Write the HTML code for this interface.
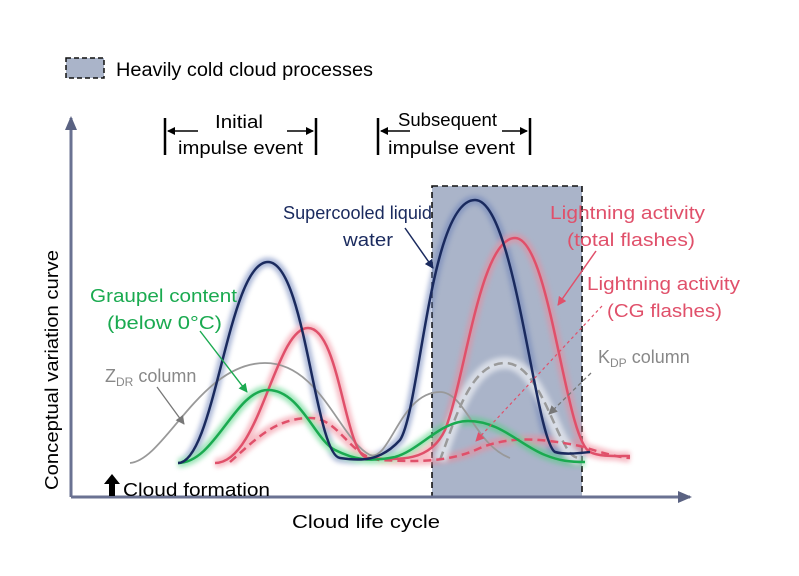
<!DOCTYPE html>
<html><head><meta charset="utf-8"><style>
html,body{margin:0;padding:0;background:#fff}
svg{display:block;font-family:"Liberation Sans","DejaVu Sans",sans-serif}
</style></head><body>
<svg width="799" height="576" viewBox="0 0 799 576" xmlns="http://www.w3.org/2000/svg">
<defs>
<filter id="bl" x="-20%" y="-20%" width="140%" height="140%"><feGaussianBlur stdDeviation="2.5"/></filter>
<marker id="ahk" markerWidth="8" markerHeight="8" refX="7" refY="4" orient="auto" markerUnits="userSpaceOnUse"><path d="M0,0 L8,4 L0,8 z" fill="#000"/></marker>
<marker id="ahn" markerWidth="9" markerHeight="9" refX="8" refY="4.5" orient="auto" markerUnits="userSpaceOnUse"><path d="M0,0 L9,4.5 L0,9 z" fill="#1a2a5e"/></marker>
<marker id="ahr" markerWidth="9" markerHeight="9" refX="8" refY="4.5" orient="auto" markerUnits="userSpaceOnUse"><path d="M0,0 L9,4.5 L0,9 z" fill="#e0506a"/></marker>
<marker id="ahg" markerWidth="9" markerHeight="9" refX="8" refY="4.5" orient="auto" markerUnits="userSpaceOnUse"><path d="M0,0 L9,4.5 L0,9 z" fill="#1aaa50"/></marker>
<marker id="ahy" markerWidth="9" markerHeight="9" refX="8" refY="4.5" orient="auto" markerUnits="userSpaceOnUse"><path d="M0,0 L9,4.5 L0,9 z" fill="#777"/></marker>
<marker id="axa" markerWidth="14" markerHeight="12" refX="12" refY="6" orient="auto" markerUnits="userSpaceOnUse"><path d="M0,0 L14,6 L0,12 z" fill="#5a6282"/></marker>
</defs>

<rect x="432" y="186" width="150" height="311" fill="#aab4c9" stroke="#111" stroke-width="1.6" stroke-dasharray="6,4"/>
<rect x="66" y="58" width="38" height="20" fill="#aab4c9" stroke="#111" stroke-width="1.5" stroke-dasharray="5,3"/>
<text x="116" y="76" font-size="19" textLength="257" lengthAdjust="spacingAndGlyphs">Heavily cold cloud processes</text>

<line x1="71" y1="497" x2="71" y2="118" stroke="#6a7292" stroke-width="3" marker-end="url(#axa)"/>
<line x1="71" y1="497" x2="690" y2="497" stroke="#6a7292" stroke-width="3" marker-end="url(#axa)"/>
<text transform="translate(58,370) rotate(-90)" text-anchor="middle" font-size="18" textLength="240" lengthAdjust="spacingAndGlyphs">Conceptual variation curve</text>
<text x="292" y="528" font-size="18" textLength="148" lengthAdjust="spacingAndGlyphs">Cloud life cycle</text>

<g stroke="#000" stroke-width="2.5"><line x1="165" y1="118" x2="165" y2="155"/><line x1="316" y1="118" x2="316" y2="155"/>
<line x1="378" y1="118" x2="378" y2="155"/><line x1="530" y1="118" x2="530" y2="155"/></g>
<g stroke="#000" stroke-width="1.5"><line x1="198" y1="131" x2="168" y2="131" marker-end="url(#ahk)"/><line x1="287" y1="131" x2="313" y2="131" marker-end="url(#ahk)"/>
<line x1="410" y1="131" x2="381" y2="131" marker-end="url(#ahk)"/><line x1="502" y1="131" x2="527" y2="131" marker-end="url(#ahk)"/></g>
<text x="215" y="128" font-size="18" textLength="48" lengthAdjust="spacingAndGlyphs">Initial</text>
<text x="178" y="154" font-size="18" textLength="125" lengthAdjust="spacingAndGlyphs">impulse event</text>
<text x="398" y="126" font-size="18" textLength="99" lengthAdjust="spacingAndGlyphs">Subsequent</text>
<text x="388" y="154" font-size="18" textLength="127" lengthAdjust="spacingAndGlyphs">impulse event</text>

<g fill="none" filter="url(#bl)" stroke-width="9" opacity="0.55">
<path stroke="#6a80b8" d="M178,463 C215,463 228,262 268,262 C305,262 315,455 340,458 C360,461 380,462 400,440 C420,410 430,200 475,200 C515,200 535,440 555,452 C565,455 580,453 590,452"/>
<path stroke="#f08898" d="M215,463 C260,463 275,328 308,328 C340,328 345,458 368,458 C400,460 430,462 445,430 C465,380 480,238 515,238 C550,238 565,440 590,452 C600,457 615,456 630,456"/>
<path stroke="#f08898" d="M230,462 C255,440 275,418 310,418 C340,418 350,458 380,460 C420,462 450,462 480,448 C510,436 540,438 580,446 C600,452 615,457 630,458"/>
<path stroke="#50d080" d="M178,463 C215,463 235,390 268,390 C300,390 315,440 335,450 C355,460 370,462 395,457 C420,450 440,421 468,421 C500,421 520,445 545,455 C560,461 570,462 585,462"/>
<path stroke="#ffffff" stroke-width="12" d="M440,460 C455,420 470,363 505,363 C535,363 550,420 565,445 C570,455 575,458 580,458"/>
</g>
<path fill="none" stroke="#999" stroke-width="1.8" d="M130,463 C165,460 200,363 265,363 C320,363 340,440 370,455 C390,462 400,392 440,392 C465,392 475,445 510,458"/>
<path fill="none" stroke="#9a9a9a" stroke-width="2.5" stroke-dasharray="9,5" d="M440,460 C455,420 470,363 505,363 C535,363 550,420 565,445 C570,455 575,458 580,458"/>
<g fill="none" stroke-width="2.5">
<path stroke="#e0506a" stroke-dasharray="8,5" d="M230,462 C255,440 275,418 310,418 C340,418 350,458 380,460 C420,462 450,462 480,448 C510,436 540,438 580,446 C600,452 615,457 630,458"/>
<path stroke="#e0506a" d="M215,463 C260,463 275,328 308,328 C340,328 345,458 368,458 C400,460 430,462 445,430 C465,380 480,238 515,238 C550,238 565,440 590,452 C600,457 615,456 630,456"/>
<path stroke="#1aaa50" d="M178,463 C215,463 235,390 268,390 C300,390 315,440 335,450 C355,460 370,462 395,457 C420,450 440,421 468,421 C500,421 520,445 545,455 C560,461 570,462 585,462"/>
<path stroke="#1a2a5e" d="M178,463 C215,463 228,262 268,262 C305,262 315,455 340,458 C360,461 380,462 400,440 C420,410 430,200 475,200 C515,200 535,440 555,452 C565,455 580,453 590,452"/>
</g>

<text x="283" y="219" font-size="18" fill="#1a2a5e" textLength="149" lengthAdjust="spacingAndGlyphs">Supercooled liquid</text>
<text x="343" y="246" font-size="18" fill="#1a2a5e" textLength="50" lengthAdjust="spacingAndGlyphs">water</text>
<line x1="405" y1="228" x2="433" y2="268" stroke="#1a2a5e" stroke-width="1.5" marker-end="url(#ahn)"/>

<text x="550" y="219" font-size="18" fill="#e0506a" textLength="155" lengthAdjust="spacingAndGlyphs">Lightning activity</text>
<text x="567" y="246" font-size="18" fill="#e0506a" textLength="128" lengthAdjust="spacingAndGlyphs">(total flashes)</text>
<line x1="596" y1="251" x2="558" y2="305" stroke="#e0506a" stroke-width="1.5" marker-end="url(#ahr)"/>
<text x="587" y="290" font-size="18" fill="#e0506a" textLength="153" lengthAdjust="spacingAndGlyphs">Lightning activity</text>
<text x="607" y="317" font-size="18" fill="#e0506a" textLength="115" lengthAdjust="spacingAndGlyphs">(CG flashes)</text>
<line x1="602" y1="306" x2="476" y2="441" stroke="#e0506a" stroke-width="1.2" stroke-dasharray="3,3" marker-end="url(#ahr)"/>

<text x="90" y="302" font-size="18" fill="#1aaa50" textLength="147" lengthAdjust="spacingAndGlyphs">Graupel content</text>
<text x="107" y="329" font-size="18" fill="#1aaa50" textLength="115" lengthAdjust="spacingAndGlyphs">(below 0°C)</text>
<line x1="200" y1="331" x2="247" y2="392" stroke="#1aaa50" stroke-width="1.4" marker-end="url(#ahg)"/>

<text x="105" y="382" font-size="18" fill="#888">Z<tspan font-size="12" dy="4">DR</tspan><tspan dy="-4"> column</tspan></text>
<line x1="157" y1="387" x2="184" y2="424" stroke="#777" stroke-width="1.3" marker-end="url(#ahy)"/>
<text x="598" y="363" font-size="18" fill="#888">K<tspan font-size="12" dy="4">DP</tspan><tspan dy="-4"> column</tspan></text>
<line x1="591" y1="373" x2="549" y2="414" stroke="#777" stroke-width="1.3" stroke-dasharray="4,3" marker-end="url(#ahy)"/>

<path d="M112,474 L104,484 L109,484 L109,496 L115,496 L115,484 L120,484 z" fill="#000"/>
<text x="123" y="496" font-size="18" textLength="147" lengthAdjust="spacingAndGlyphs">Cloud formation</text>
</svg>
</body></html>
